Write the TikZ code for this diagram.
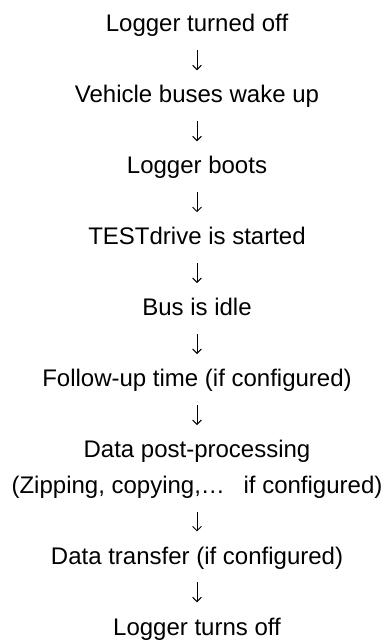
\documentclass[tikz,border=0pt]{standalone}
\usepackage{fontspec}
\setmainfont{Liberation Sans}
\usetikzlibrary{arrows.meta}
\tikzset{
  stage/.style={font=\fontsize{12}{14}\selectfont,inner sep=0pt,text height=8.6pt,text depth=2.5pt,anchor=base},
  flow/.style={-{Straight Barb[length=2.2pt,width=4.4pt]},line width=0.5pt,shorten <=6.5pt,shorten >=7.5pt}
}
\begin{document}
\begin{tikzpicture}[x=1pt,y=1pt]
\useasboundingbox (0,0) rectangle (193.5,-320.5);
\node[stage](off) at (98.5,-16){Logger turned off};
\node[stage](wake) at (98.5,-51.47){Vehicle buses wake up};
\node[stage](boot) at (98.5,-86.94){Logger boots};
\node[stage](start) at (98.5,-122.41){TESTdrive is started};
\node[stage](idle) at (98.5,-157.88){Bus is idle};
\node[stage](follow) at (98.5,-193.35){Follow-up time (if configured)};
\node[stage](post) at (98.5,-228.82){Data post-processing};
\node[stage](zip) at (98.5,-246.56){(Zipping, copying,\dots\hspace{0.5em} if configured)};
\node[stage](transfer) at (98.5,-282.03){Data transfer (if configured)};
\node[stage](last) at (98.5,-317.5){Logger turns off};
\draw[flow](off)--(wake);
\draw[flow](wake)--(boot);
\draw[flow](boot)--(start);
\draw[flow](start)--(idle);
\draw[flow](idle)--(follow);
\draw[flow](follow)--(post);
\draw[flow](zip)--(transfer);
\draw[flow](transfer)--(last);
\end{tikzpicture}
\end{document}
